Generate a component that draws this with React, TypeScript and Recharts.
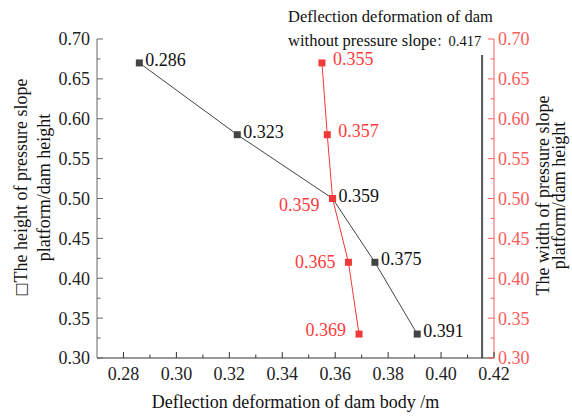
import React from 'react';
import { ScatterChart, Scatter, XAxis, YAxis, ReferenceLine, Label } from 'recharts';

// Black series: height of pressure slope platform / dam height
const heightRatios = [0.67, 0.58, 0.5, 0.42, 0.33];
const heightDeflections = [0.286, 0.323, 0.359, 0.375, 0.391];
// Red series: width of pressure slope platform / dam height
const widthRatios = [0.67, 0.58, 0.5, 0.42, 0.33];
const widthDeflections = [0.355, 0.357, 0.359, 0.365, 0.369];
// Dam without pressure slope
const noSlopeValue = '0.417';
const noSlopeLineX = 0.4155;
const noSlopeLineY = [0.3, 0.68];

const xTicks = [0.28, 0.29, 0.3, 0.31, 0.32, 0.33, 0.34, 0.35, 0.36, 0.37, 0.38, 0.39, 0.4, 0.41, 0.42];
const yTicks = [0.3, 0.325, 0.35, 0.375, 0.4, 0.425, 0.45, 0.475, 0.5, 0.525, 0.55, 0.575, 0.6, 0.625, 0.65, 0.675, 0.7];

const heightData = heightRatios.map((y, i) => ({ x: heightDeflections[i], y }));
const widthData = widthRatios.map((y, i) => ({ x: widthDeflections[i], y }));

const FONT = '"Liberation Serif", "Times New Roman", serif';
const SERIF = { fontFamily: FONT };
const RED = '#ff3b3b';
const RED_AXIS = '#ff5c5c';
const DARK = '#444';

const XTick = (props: any) => {
  const { x, y, payload } = props;
  const v = payload.value;
  const major = Math.round(v * 100) % 2 === 0;
  return (
    <g>
      <line x1={x} x2={x} y1={y} y2={y - (major ? 6 : 3.5)} stroke="#333" />
      {major && (
        <text x={x} y={y + 22} textAnchor="middle" fontSize={18} fill="#222" style={SERIF}>
          {v.toFixed(2)}
        </text>
      )}
    </g>
  );
};

const LeftTick = (props: any) => {
  const { x, y, payload } = props;
  const v = payload.value;
  const major = Math.round(v * 1000) % 50 === 0;
  return (
    <g>
      <line x1={x} x2={x + (major ? 6 : 3.5)} y1={y} y2={y} stroke="#666" />
      {major && (
        <text x={x - 7} y={y} dy="0.36em" textAnchor="end" fontSize={18} fill="#222" style={SERIF}>
          {v.toFixed(2)}
        </text>
      )}
    </g>
  );
};

const RightTick = (props: any) => {
  const { x, y, payload } = props;
  const v = payload.value;
  const major = Math.round(v * 1000) % 50 === 0;
  return (
    <g>
      <line x1={x} x2={x - (major ? 6 : 3.5)} y1={y} y2={y} stroke={RED_AXIS} />
      {major && (
        <text x={x + 4} y={y} dy="0.36em" textAnchor="start" fontSize={18} fill={RED_AXIS} style={SERIF}>
          {v.toFixed(2)}
        </text>
      )}
    </g>
  );
};

const HeightShape = (props: any) => {
  const { cx, cy, payload } = props;
  return (
    <g>
      <rect x={cx - 3.5} y={cy - 3.5} width={7} height={7} fill={DARK} />
      <text x={cx + 6} y={cy + 3} fontSize={18} fill="#111" style={SERIF}>
        {payload.x.toFixed(3)}
      </text>
    </g>
  );
};

const WidthShape = (props: any) => {
  const { cx, cy, payload } = props;
  const idx = widthData.findIndex((d) => d.y === payload.y);
  const right = idx < 2;
  const dy = idx === 2 ? 12 : idx === 3 ? 6 : 2;
  return (
    <g>
      <rect x={cx - 3.5} y={cy - 3.5} width={7} height={7} fill="#f03a3a" />
      <text
        x={right ? cx + 11 : cx - 13}
        y={cy + dy}
        textAnchor={right ? 'start' : 'end'}
        fontSize={18}
        fill={RED}
        style={SERIF}
      >
        {payload.x.toFixed(3)}
      </text>
    </g>
  );
};

const NoSlopeLabel = (p: any) => {
  const vb = p.viewBox || {};
  const x0 = vb.x - 194;
  const y0 = vb.y;
  return (
    <g fill="#111" style={SERIF}>
      <text x={x0} y={y0 - 33} fontSize={16.5} style={SERIF}>Deflection deformation of dam</text>
      <text x={x0} y={y0 - 9} fontSize={16.5} style={SERIF}>
        without pressure slope
        <tspan style={{ fontFamily: '"Noto Sans CJK SC", sans-serif' }} fontSize={12}>：</tspan>
        <tspan fontSize={14.5}>{noSlopeValue}</tspan>
      </text>
    </g>
  );
};

const XLabel = (p: any) => {
  const vb = p.viewBox;
  return (
    <text x={vb.x + vb.width / 2} y={vb.y + 50} textAnchor="middle" fontSize={18} fill="#111" style={SERIF}>
      Deflection deformation of dam body /m
    </text>
  );
};

const LeftLabel = (p: any) => {
  const vb = p.viewBox;
  const right = vb.x + vb.width;
  const cy = vb.y + vb.height / 2 - 11;
  return (
    <g fontSize={18} fill="#111" style={SERIF}>
      <text x={right - 76} y={cy} textAnchor="middle" dominantBaseline="central" transform={`rotate(-90, ${right - 76}, ${cy})`}>
        <tspan style={{ fontFamily: '"DejaVu Sans", sans-serif' }} fontSize={15} fill="#222">□</tspan>
        The height of pressure slope
      </text>
      <text x={right - 53} y={cy} textAnchor="middle" dominantBaseline="central" transform={`rotate(-90, ${right - 53}, ${cy})`}>
        platform/dam height
      </text>
    </g>
  );
};

const RightLabel = (p: any) => {
  const vb = p.viewBox;
  const left = vb.x;
  const cy = vb.y + vb.height / 2 - 3;
  return (
    <g fontSize={18} fill="#111" style={SERIF}>
      <text x={left + 49} y={cy} textAnchor="middle" dominantBaseline="central" transform={`rotate(-90, ${left + 49}, ${cy})`}>
        The width of pressure slope
      </text>
      <text x={left + 65} y={cy} textAnchor="middle" dominantBaseline="central" transform={`rotate(-90, ${left + 65}, ${cy})`}>
        platform/dam height
      </text>
    </g>
  );
};

export default function App() {
  return (
    <div style={{ position: 'absolute', left: 0, top: 0, width: 572, height: 416, background: '#fff', fontFamily: FONT }}>
      <ScatterChart width={572} height={416} margin={{ top: 39, right: 28, bottom: 28, left: 47 }}>
        <XAxis
          type="number"
          dataKey="x"
          domain={[0.27, 0.42]}
          ticks={xTicks}
          interval={0}
          tickSize={0}
          tickMargin={0}
          tickLine={false}
          tick={<XTick />}
          height={30}
          axisLine={{ stroke: '#333' }}
          allowDataOverflow
        >
          <Label content={<XLabel />} />
        </XAxis>
        <YAxis
          yAxisId="left"
          type="number"
          dataKey="y"
          domain={[0.3, 0.7]}
          ticks={yTicks}
          interval={0}
          tickSize={0}
          tickMargin={0}
          tickLine={false}
          tick={<LeftTick />}
          width={50}
          axisLine={{ stroke: '#666' }}
          allowDataOverflow
        >
          <Label content={<LeftLabel />} />
        </YAxis>
        <YAxis
          yAxisId="right"
          orientation="right"
          type="number"
          dataKey="y"
          domain={[0.3, 0.7]}
          ticks={yTicks}
          interval={0}
          tickSize={0}
          tickMargin={0}
          tickLine={false}
          tick={<RightTick />}
          width={50}
          axisLine={{ stroke: RED_AXIS }}
          allowDataOverflow
        >
          <Label content={<RightLabel />} />
        </YAxis>
        <ReferenceLine
          yAxisId="left"
          segment={[
            { x: noSlopeLineX, y: noSlopeLineY[0] },
            { x: noSlopeLineX, y: noSlopeLineY[1] },
          ]}
          stroke="#555"
          strokeWidth={2}
          label={<NoSlopeLabel />}
        />
        <Scatter
          yAxisId="left"
          data={heightData}
          line={{ stroke: '#444', strokeWidth: 1 }}
          shape={<HeightShape />}
          isAnimationActive={false}
        />
        <Scatter
          yAxisId="right"
          data={widthData}
          line={{ stroke: '#f03a3a', strokeWidth: 1 }}
          shape={<WidthShape />}
          isAnimationActive={false}
        />
      </ScatterChart>
    </div>
  );
}
